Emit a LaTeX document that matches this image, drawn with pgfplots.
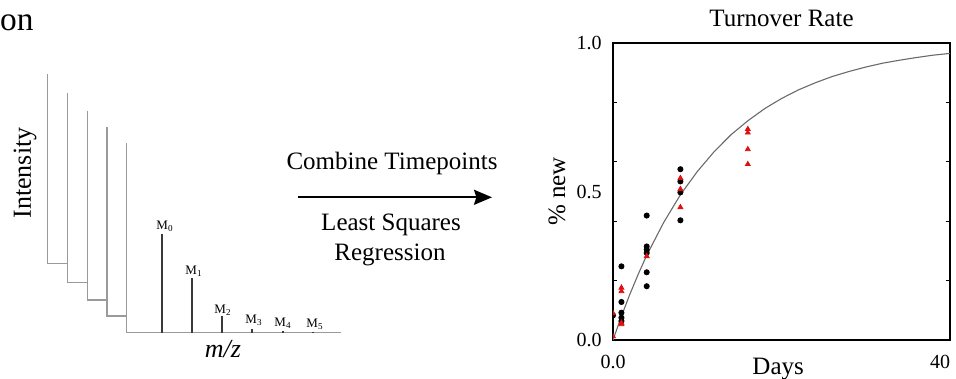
\documentclass[border=0pt]{standalone}
\usepackage{fontspec}
\setmainfont{Liberation Serif}
\usepackage{pgfplots}
\pgfplotsset{compat=1.18}
\usepackage{pgfplotstable}
\usetikzlibrary{arrows.meta}

\pgfplotstableread{
t y
0 0
1 0.080
2 0.154
3 0.222
4 0.285
6 0.395
8 0.489
10 0.567
12 0.634
14 0.691
16 0.738
18 0.779
20 0.813
22 0.842
24 0.866
26 0.887
28 0.904
30 0.919
32 0.932
34 0.942
36 0.951
38 0.959
40 0.965
}\fitcurve

\pgfplotstableread{
t y
0 0.083
1 0.248
1 0.128
1 0.092
1 0.075
1 0.064
4 0.419
4 0.315
4 0.304
4 0.293
4 0.228
4 0.181
8 0.575
8 0.534
8 0.497
8 0.403
}\blackpts

\pgfplotstableread{
t y
0 0.090
0 0.012
1 0.176
1 0.164
1 0.058
1 0.053
4 0.282
8 0.545
8 0.508
8 0.447
16 0.710
16 0.698
16 0.642
16 0.592
}\redpts

\definecolor{lgray}{HTML}{9A9A9A}
\definecolor{dgray}{HTML}{3A3A3A}
\definecolor{fitgray}{HTML}{6A6A6A}
\definecolor{ptred}{HTML}{E01010}

\begin{document}
\begin{tikzpicture}[font=\fontsize{12.5}{15}\selectfont]
\path[use as bounding box] (0,0) rectangle (478pt,-189.5pt);

% ---------- left schematic (pixel canvas) ----------
\begin{axis}[
  at={(0,0)}, anchor=north west,
  scale only axis, width=478pt, height=189.5pt,
  xmin=0, xmax=956, ymin=0, ymax=379, y dir=reverse,
  hide axis, clip=false, unbounded coords=jump]
  \addplot[lgray, line width=0.75pt, no marks] coordinates {(47.7,74) (47.7,263.3) (67.3,263.3)};
  \addplot[lgray, line width=0.75pt, no marks] coordinates {(67.3,92.7) (67.3,282.7) (87.3,282.7)};
  \addplot[lgray, line width=0.75pt, no marks] coordinates {(87.3,110.7) (87.3,300) (107,300)};
  \addplot[lgray, line width=0.75pt, no marks] coordinates {(107,126.7) (107,316) (126.7,316)};
  \addplot[lgray, line width=0.75pt, no marks] coordinates {(126.7,143.3) (126.7,332.7) (340.7,332.7)};
  % isotope sticks
  \addplot[dgray, line width=1pt, no marks] coordinates {
    (162.3,332.7) (162.3,234.3) (162.3,nan)
    (191.7,332.7) (191.7,278.3) (191.7,nan)
    (221.7,332.7) (221.7,316) (221.7,nan)
    (252.3,332.7) (252.3,329.3) (252.3,nan)
    (282.7,332.7) (282.7,331.3) (282.7,nan)
    (313.3,332.7) (313.3,332) };
  % arrow
  \addplot[black, line width=1.1pt, no marks, -{Stealth[length=9pt,width=7.5pt,inset=1.2pt]}]
    coordinates {(298,197.3) (492,197.3)};

  \node[anchor=base east, inner sep=0pt, font=\fontsize{16.7}{20}\selectfont] at (axis cs:34,30) {on};
  \node[rotate=90] at (axis cs:25,173) {\fontsize{13}{15}\selectfont Intensity};
  \node at (axis cs:223,349) {\fontsize{13}{15}\selectfont\itshape m/z};
  \begin{scope}[font=\fontsize{6.5}{7}\selectfont, inner sep=0pt]
    \node at (axis cs:165,226.7) {M\textsubscript{0}};
    \node at (axis cs:194,271.7) {M\textsubscript{1}};
    \node at (axis cs:223,310) {M\textsubscript{2}};
    \node at (axis cs:254,320.7) {M\textsubscript{3}};
    \node at (axis cs:283,323) {M\textsubscript{4}};
    \node at (axis cs:315,324) {M\textsubscript{5}};
  \end{scope}
  \node at (axis cs:392,163) {Combine Timepoints};
  \node at (axis cs:391,225) {Least Squares};
  \node at (axis cs:390,255) {Regression};
\end{axis}

% ---------- turnover plot ----------
\begin{axis}[
  at={(306.5pt,-170pt)}, anchor=south west,
  scale only axis, width=168.5pt, height=148.5pt,
  xmin=0, xmax=40, ymin=0, ymax=1,
  axis line style={black, line width=0.6pt},
  xtick={0,40}, xticklabels={0.0,{\makebox[0pt][r]{40}}},
  ytick={0,0.5,1}, yticklabels={0.0,0.5,1.0},
  major tick length=0pt,
  extra y ticks={0.2,0.4,0.6,0.8}, extra y tick labels={},
  extra y tick style={major tick length=2pt, tick style={black, line width=0.5pt}},
  tick align=inside, ytick pos=both, xtick pos=bottom,
  /pgf/number format/assume math mode=true,
  ticklabel style={font=\fontsize{10}{12}\selectfont, inner sep=0pt},
  yticklabel style={anchor=east, xshift=-5.5pt},
  xticklabel style={anchor=north, yshift=-7.5pt},
  every axis title shift=0pt,
  title={Turnover Rate},
  title style={at={(axis description cs:0.5,1.054)}, anchor=base, inner sep=0pt},
  xlabel={Days},
  xlabel style={at={(axis description cs:0.49,-0.117)}, anchor=base, inner sep=0pt},
  ylabel={\% new},
  ylabel style={at={(axis description cs:-0.142,0.5)}, anchor=base, inner sep=0pt, rotate=0},
  clip marker paths=true]
  \addplot[fitgray, line width=0.55pt, no marks] table[x=t,y=y] {\fitcurve};
  \addplot[only marks, mark=*, mark size=1.3pt, black] table[x=t,y=y] {\blackpts};
  \addplot[only marks, mark=triangle*, mark size=1.4pt, ptred, mark options={draw=ptred, fill=ptred}] table[x=t,y=y] {\redpts};
\end{axis}
\end{tikzpicture}
\end{document}
